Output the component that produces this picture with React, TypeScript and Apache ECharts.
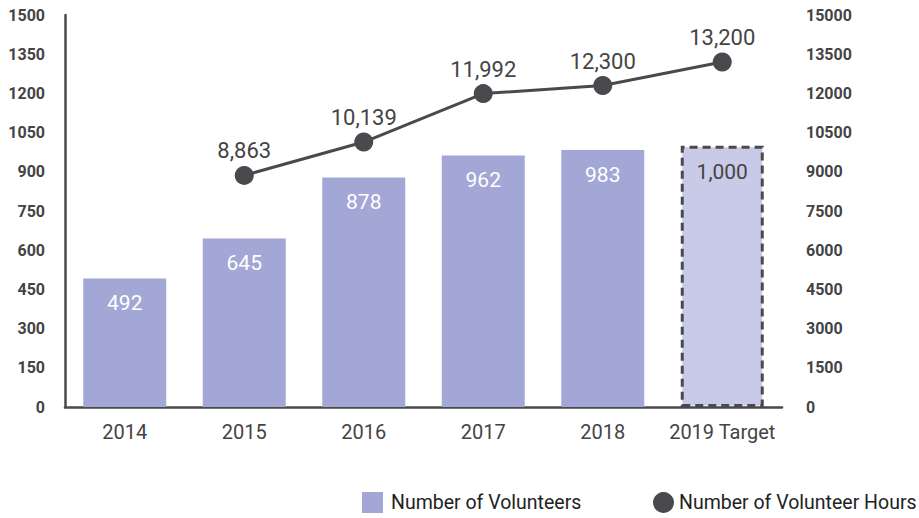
import React, { useEffect, useRef } from "react";
import * as echarts from "echarts";

const categories = ["2014", "2015", "2016", "2017", "2018", "2019 Target"];
const volunteers = [492, 645, 878, 962, 983, 1000];
const volunteerHours: (number | null)[] = [null, 8863, 10139, 11992, 12300, 13200];
const leftTicks = { min: 0, max: 1500, interval: 150 };
const rightTicks = { min: 0, max: 15000, interval: 1500 };

const BAR = "#a2a7d5";
const TARGET = "#c8cae7";
const DARK = "#4a4a4e";
const TEXT = "#444444";
const FONT = "Roboto, 'Noto Sans', Arial, sans-serif";

const fmt = (v: number) => v.toLocaleString("en-US");

export default function App() {
  const ref = useRef<HTMLDivElement>(null);
  useEffect(() => {
    if (!ref.current) return;
    const chart = echarts.init(ref.current, null, { renderer: "svg" });
    const last = volunteers.length - 1;
    const legendBase = {
      top: 492,
      itemWidth: 21,
      itemHeight: 21,
      itemGap: 0,
      padding: 0,
      itemStyle: { borderWidth: 0 },
      textStyle: { fontSize: 19.5, color: "#222", fontFamily: FONT, padding: [0, 0, 0, 3] },
    };
    chart.setOption({
      animation: false,
      textStyle: { fontFamily: FONT },
      grid: { left: 65, right: 137, top: 15, bottom: 111, containLabel: false },
      legend: [
        {
          ...legendBase,
          left: 362,
          data: [{ name: "Number of Volunteers", icon: "rect", itemStyle: { color: BAR, borderWidth: 0 } }],
        },
        {
          ...legendBase,
          left: 653,
          textStyle: { ...legendBase.textStyle, padding: 0 },
          data: [{ name: "Number of Volunteer Hours", icon: "circle", itemStyle: { color: DARK } }],
        },
      ],
      xAxis: {
        type: "category",
        data: categories,
        axisLine: { lineStyle: { color: DARK, width: 2.5 } },
        axisTick: { show: false },
        axisLabel: { color: TEXT, fontSize: 20, margin: 15, interval: 0, fontFamily: FONT },
      },
      yAxis: [
        {
          type: "value",
          ...leftTicks,
          splitLine: { show: false },
          axisLine: { show: true, lineStyle: { color: DARK, width: 2.5 } },
          axisTick: { show: false },
          axisLabel: {
            color: TEXT,
            fontSize: 16,
            fontWeight: "bold",
            margin: 20,
            fontFamily: FONT,
            formatter: (v: number) => String(v),
          },
        },
        {
          type: "value",
          ...rightTicks,
          splitLine: { show: false },
          axisLine: { show: false },
          axisTick: { show: false },
          axisLabel: {
            color: TEXT,
            fontSize: 16,
            fontWeight: "bold",
            margin: 24,
            align: "left",
            fontFamily: FONT,
            formatter: (v: number) => String(v),
          },
        },
      ],
      series: [
        {
          name: "Number of Volunteers",
          type: "bar",
          yAxisIndex: 0,
          barWidth: 83,
          itemStyle: { color: BAR },
          data: volunteers.map((v, i) =>
            i === last
              ? {
                  value: v,
                  itemStyle: { color: TARGET, borderColor: DARK, borderWidth: 3, borderType: [8, 5] },
                  label: { color: TEXT, distance: 16 },
                }
              : v
          ),
          label: {
            show: true,
            position: "insideTop",
            distance: 14,
            color: "#ffffff",
            fontSize: 21,
            fontFamily: FONT,
            formatter: (p: any) => fmt(p.value),
          },
        },
        {
          name: "Number of Volunteer Hours",
          type: "line",
          yAxisIndex: 1,
          data: volunteerHours.map((v) => (v === null ? "-" : v)),
          symbol: "circle",
          symbolSize: 19,
          lineStyle: { color: DARK, width: 3 },
          itemStyle: { color: DARK },
          label: {
            show: true,
            position: "top",
            distance: 4,
            color: TEXT,
            fontSize: 22,
            fontFamily: FONT,
            formatter: (p: any) => fmt(p.value),
          },
        },
      ],
    });
    return () => chart.dispose();
  }, []);
  return <div ref={ref} style={{ width: 919, height: 518, position: "absolute", left: 0, top: 0 }} />;
}
